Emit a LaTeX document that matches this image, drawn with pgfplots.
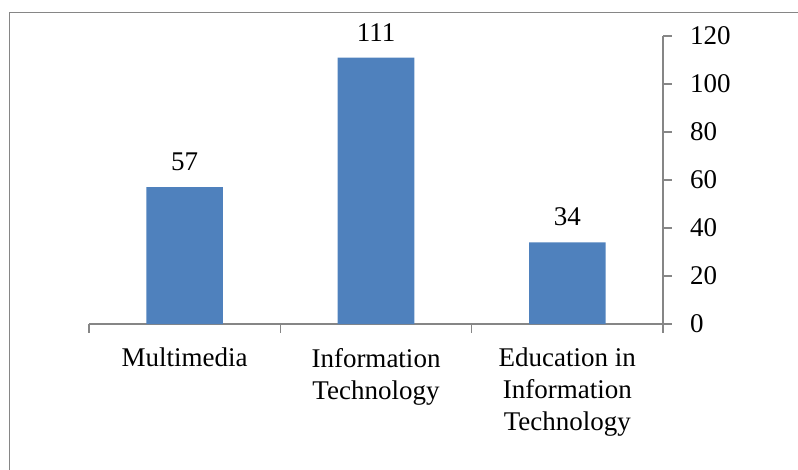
\documentclass[border=0pt]{standalone}
\usepackage{fontspec}
\setmainfont{Liberation Serif}
\usepackage{pgfplots}
\pgfplotsset{compat=1.18}
\definecolor{barblue}{RGB}{79,129,189}
\definecolor{axgray}{RGB}{134,134,134}
\newcommand{\lblfont}{\fontsize{27bp}{32bp}\selectfont}
\begin{document}
\begin{tikzpicture}
\path[use as bounding box] (0,0) rectangle (798bp,470bp);
\draw[axgray, line width=1.3bp] (9.5bp,-5bp) -- (9.5bp,457.5bp) -- (805bp,457.5bp);
\begin{axis}[
  at={(89bp,146bp)}, anchor=south west,
  scale only axis, width=574bp, height=288bp,
  xmin=-0.5, xmax=2.5, ymin=0, ymax=120,
  axis x line=bottom, axis y line=right,
  axis line style={-, draw=axgray, line width=1.1bp},
  every tick/.style={draw=axgray, line width=1.1bp},
  tick align=outside, major tick length=8.5bp,
  xtick={-0.5,0.5,1.5,2.5},
  x tick label as interval,
  xticklabels={{Multimedia},{Information\\Technology},{Education in\\Information\\Technology}},
  xticklabel style={align=center, font=\lblfont, anchor=north, yshift=-12bp},
  ytick={0,20,...,120},
  yticklabel style={font=\lblfont, anchor=west, xshift=15bp},
  /pgf/number format/assume math mode=true,
  clip=false,
  ]
\addplot[ybar, bar width=0.4, fill=barblue, draw=none,
  nodes near coords, every node near coord/.append style={font=\lblfont, text=black, yshift=13bp}]
  coordinates {(0,57) (1,111) (2,34)};
\end{axis}
\end{tikzpicture}
\end{document}
